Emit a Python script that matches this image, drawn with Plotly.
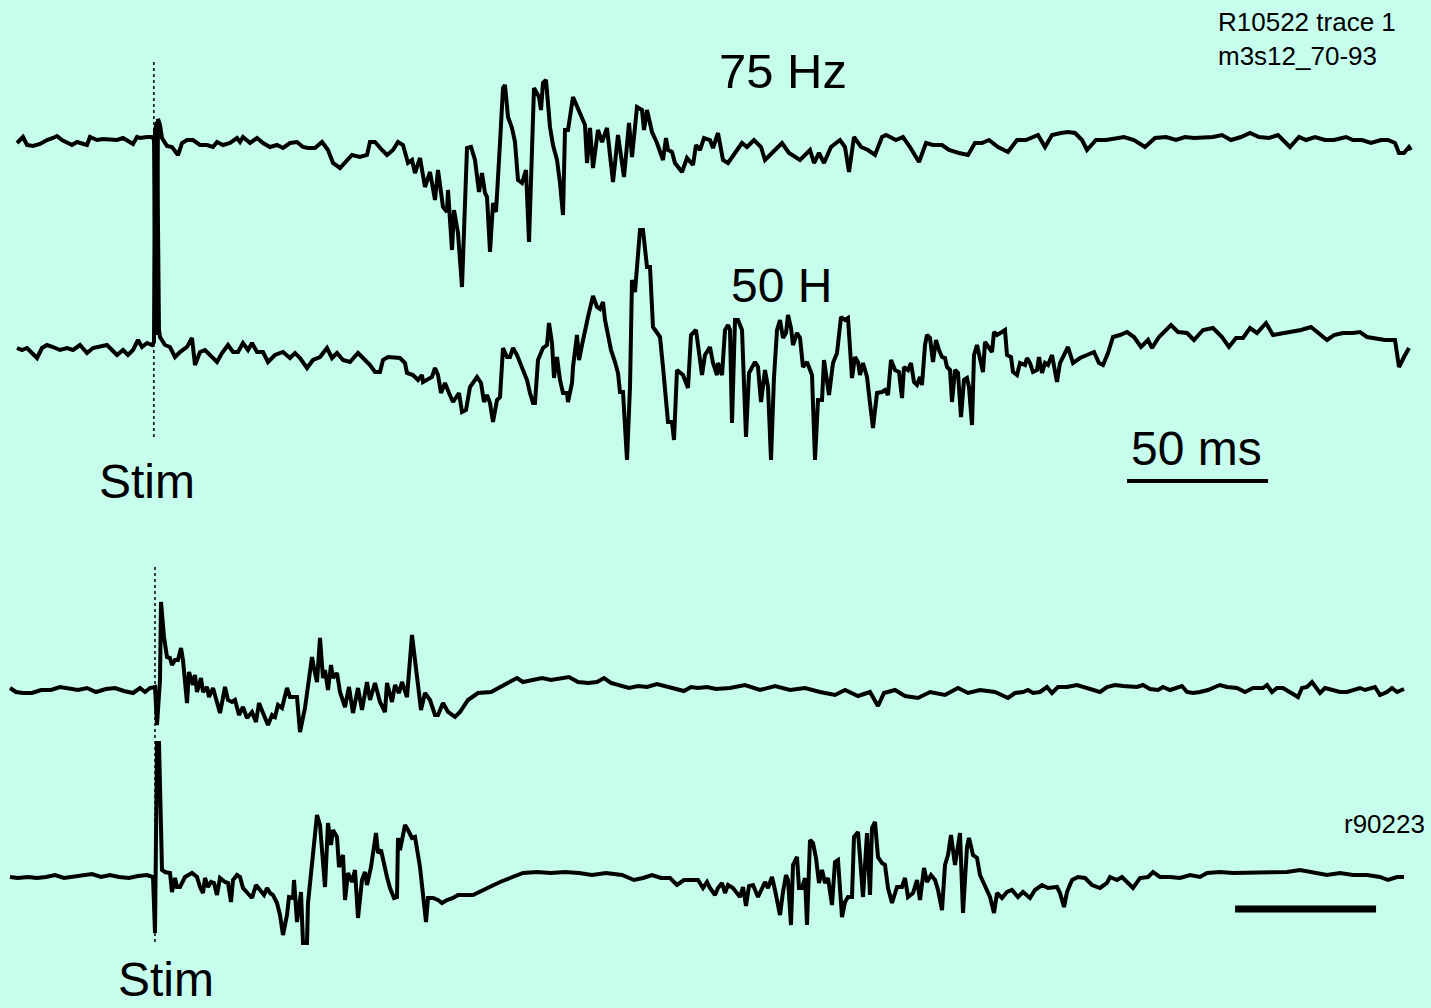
import plotly.graph_objects as go

# Sampling rate of the digitised sweeps (samples per ms); sample 0 = stimulus onset
FS_KHZ = 2.82

# ---- Sweep A, 75 Hz (sample index, amplitude a.u., positive = up) ----
a75_idx = [-138,-132,-128,-122,-115,-108,-102,-98,-93,-88,-83,-78,-73,-68,-65,-58,-52,-45,-38,-32,-25,-22,-18,-15,-8,-3,
           -1,0,1,3,5,7,
           12,17,23,27,32,38,45,52,58,62,68,75,82,85,88,95,102,108,115,122,128,135,142,148,153,160,167,173,178,185,192,197,
           205,212,215,220,227,232,238,243,248,253,257,260,265,270,275,280,283,288,292,293,297,299,303,307,312,316,320,324,
           327,330,332,335,338,341,345,348,350,353,357,360,363,367,371,374,379,384,386,388,391,395,398,402,405,408,410,413,
           418,422,427,430,432,435,438,443,447,452,458,463,469,474,477,482,487,489,492,497,502,508,511,513,517,520,527,532,
           538,541,545,549,555,558,563,568,573,580,587,592,599,606,610,617,627,634,645,655,659,664,669,676,685,690,694,699,
           706,713,720,727,731,741,748,755,764,771,778,787,794,804,813,820,827,834,843,853,862,871,883,890,897,906,913,920,
           927,932,941,951,960,969,979,990,1000,1011,1021,1030,1039,1049,1058,1067,1076,1086,1095,1104,1114,1123,1135,1144,
           1151,1160,1170,1179,1191,1198,1207,1216,1226,1233,1240,1244,1249,1254,1256]
a75_val = [-3,3,-5,-6,-4,0,2,4,0,-2,-5,-2,-3,-5,3,0,1,0,0,2,-2,-4,3,2,3,3,
           0,-190,-195,21,15,2,
           -6,-7,-15,-3,0,0,-5,-5,-7,-2,-5,-3,2,-2,3,-3,2,-3,-7,-5,-8,-3,-2,-7,-8,-8,-2,-10,-23,-28,-20,-15,
           -17,-15,-2,-2,-10,-15,-10,-2,-5,-23,-20,-33,-18,-47,-32,-60,-30,-67,-72,-50,-110,-70,-93,-147,-8,-7,-20,-52,
           -33,-53,-57,-112,-63,-72,-3,52,55,23,12,-2,-40,-43,-30,-102,52,43,30,57,60,13,-5,-20,-43,-75,10,10,
           43,33,20,15,-23,12,-28,10,-2,12,-42,5,-37,17,-17,33,30,10,30,8,-3,-20,2,-10,-12,-23,-32,-18,
           -25,-5,-10,2,0,-8,7,-20,-23,-13,-3,-7,0,-7,-20,-13,-3,-13,-20,-10,-23,-13,-23,-7,0,-7,-32,3,
           -7,-10,-15,3,5,0,3,-7,-22,-3,-5,-5,-10,-13,-15,-3,-3,0,-7,-12,0,0,5,-7,5,7,8,7,
           0,-10,0,0,2,3,0,-7,2,3,0,3,2,3,3,5,0,3,7,3,2,5,-7,3,
           0,3,0,0,3,0,0,-3,0,0,-3,-13,-13,-7,-10]

# ---- Sweep B, 50 Hz ----
a50_idx = [-138,-133,-128,-123,-118,-113,-108,-102,-95,-88,-82,-75,-68,-62,-55,-48,-43,-38,-32,-27,-22,-17,-13,-8,-3,
           -1,0,2,4,5,10,15,20,25,32,37,40,45,50,55,62,67,73,78,83,88,93,97,102,108,113,120,128,135,140,145,152,158,
           165,172,177,182,188,195,203,208,215,220,225,228,233,245,250,252,258,263,267,268,273,277,280,283,286,290,294,
           298,304,307,311,315,322,326,329,332,335,338,342,345,348,352,355,358,362,367,372,375,378,380,383,388,392,394,
           397,399,402,405,408,412,413,417,418,422,424,427,430,433,438,442,445,448,450,453,456,460,463,465,468,472,475,
           477,480,485,488,492,495,498,505,508,513,517,519,522,528,533,536,541,543,547,550,555,558,562,563,567,570,573,
           575,577,580,583,587,591,594,600,603,606,610,613,616,619,622,625,628,631,633,636,638,642,645,648,652,657,660,
           663,667,669,674,678,682,686,690,693,697,700,703,705,708,712,715,718,722,727,730,733,736,740,744,747,749,753,
           756,759,762,765,767,770,772,775,778,781,784,787,790,792,795,797,800,803,806,809,812,814,817,819,822,825,828,
           830,834,837,839,842,847,850,852,856,858,862,865,870,872,875,878,882,884,887,890,893,897,902,905,913,918,925,
           932,939,944,948,953,958,965,972,979,986,993,997,1004,1011,1016,1023,1032,1039,1048,1058,1067,1074,1081,1088,
           1095,1102,1111,1118,1128,1137,1146,1156,1165,1172,1179,1188,1198,1205,1212,1221,1230,1240,1244,1249,1254]
a50_val = [0,-2,0,-5,-10,0,3,1,-2,0,-2,3,-5,0,1,3,-2,-7,-2,-7,-2,8,1,5,3,
           6,218,226,18,11,3,1,-9,-4,1,10,-17,-4,-2,-7,-14,-5,3,-4,-4,5,-2,5,-4,-4,-14,-7,-4,-10,-5,-10,-20,-12,
           -9,0,-10,-5,-12,-14,-5,-10,-17,-24,-24,-12,-9,-10,-15,-25,-27,-32,-27,-34,-31,-29,-20,-27,-45,-35,-45,
           -54,-45,-64,-62,-39,-29,-35,-54,-47,-55,-74,-52,-49,0,-9,-9,0,-7,-19,-32,-45,-55,-55,-12,0,3,25,
           5,-30,-9,-32,-45,-45,-54,-35,-19,13,-12,3,15,31,52,41,39,46,28,15,-2,-14,-25,-44,-44,-112,-39,
           68,56,118,118,81,81,21,11,-19,-74,-74,-92,-22,-27,-40,13,18,1,-27,-7,1,-15,-27,-15,-27,18,23,
           18,-75,28,28,18,-89,-25,-14,-19,-54,-22,-39,-112,-29,18,28,10,15,33,20,3,15,10,-19,-14,-27,-112,
           -52,-52,-12,-47,-15,-5,31,28,30,-30,-9,-14,-27,-15,-29,-55,-80,-45,-44,-42,-47,-12,-22,-24,-50,-19,-22,
           -15,-34,-37,-29,-37,3,13,10,-14,8,-2,-9,-10,-19,-22,-54,-22,-25,-69,-32,-30,-39,-77,-7,3,-12,-24,
           6,0,-4,16,13,16,18,-7,-9,-24,-27,-15,-17,-10,-15,-24,-22,-9,-25,-15,-17,-7,-34,-15,1,-15,-10,
           -7,-4,-15,-17,-5,11,13,16,11,1,8,0,11,18,23,16,15,8,18,20,11,1,10,10,
           20,15,25,13,15,16,18,21,13,8,13,15,15,16,11,10,8,8,-19,-9,0]

# ---- Sweep C (r90223, upper) ----
c1_idx = [-145,-139,-132,-123,-114,-104,-95,-86,-77,-68,-59,-49,-40,-31,-22,-15,-10,-5,0,2,5,6,9,12,15,17,20,23,26,28,
          32,34,38,40,42,46,48,52,54,58,62,65,70,73,77,80,84,88,92,97,101,104,108,113,117,120,123,127,132,135,142,145,
          150,153,157,159,162,165,168,170,173,176,178,182,185,190,194,198,203,207,212,215,220,225,230,232,237,240,244,
          247,252,257,262,266,270,275,280,283,288,293,300,305,313,323,336,345,352,362,368,378,387,396,405,414,423,433,
          442,449,456,465,474,483,492,502,511,520,529,536,543,552,561,575,590,605,620,635,650,665,680,690,703,715,723,
          729,740,750,763,775,790,803,813,825,840,853,860,868,873,878,885,892,897,903,912,922,932,940,945,952,960,968,
          975,982,988,995,1003,1008,1015,1020,1027,1032,1038,1045,1053,1060,1065,1072,1082,1090,1098,1108,1112,1117,
          1122,1128,1135,1143,1147,1152,1157,1161,1165,1170,1178,1185,1192,1198,1205,1210,1215,1220,1225,1232,1237,
          1242,1249]
c1_val = [2,-2,-3,-3,0,0,3,1,0,2,-2,1,2,-1,-3,2,-2,2,3,-35,10,88,53,33,32,25,30,30,42,30,
          -13,18,5,15,-2,12,-2,3,-7,2,-13,-23,3,-10,-12,-10,-25,-17,-28,-22,-32,-13,-23,-35,-25,-27,-15,-18,2,-7,-7,-42,
          -18,3,33,22,8,52,12,20,0,25,12,17,-2,-17,3,-23,2,-20,8,-10,7,-12,-22,7,-12,5,-3,
          8,-7,55,15,-20,-3,-10,-25,-25,-13,-22,-27,-22,-10,-3,-2,3,7,12,8,10,12,10,12,13,8,7,
          8,12,7,5,2,4,3,6,4,2,-1,3,2,3,1,2,5,0,4,0,2,-2,-5,0,-6,-2,-16,
          -3,0,-6,-8,-2,-5,2,-3,0,-2,-8,-3,-2,0,-3,-2,3,-3,3,3,5,2,0,-2,3,5,4,
          3,3,5,1,0,3,0,2,4,-2,-3,-2,0,3,5,3,2,-2,2,2,5,-2,
          2,2,-2,-7,2,3,8,2,-3,2,0,-2,-2,0,2,0,2,3,-5,-2,2,
          -2,1]

# ---- Sweep C (r90223, lower) ----
c2_idx = [-145,-137,-127,-118,-109,-100,-91,-82,-72,-63,-54,-45,-36,-26,-17,-8,-2,0,2,4,7,10,15,17,20,22,25,30,37,42,
          45,48,50,53,56,59,62,65,70,73,76,78,82,85,88,93,97,101,105,109,112,115,118,122,125,128,132,134,138,139,142,
          146,148,152,153,157,159,162,165,168,170,173,176,178,182,184,188,190,193,197,200,203,207,210,212,216,218,221,
          223,226,232,235,239,242,243,245,247,250,253,257,260,265,271,273,278,283,287,292,298,303,318,332,345,355,368,
          382,396,410,424,437,451,467,479,488,497,506,515,522,529,536,543,548,552,555,560,563,567,570,573,578,585,588,
          591,594,598,603,607,610,613,617,620,625,628,631,633,636,638,642,644,647,650,652,655,658,661,664,667,670,673,
          677,680,683,687,690,693,697,699,703,705,708,712,715,717,720,723,727,730,733,737,742,747,750,753,758,762,765,
          769,772,776,780,783,787,790,793,796,800,805,808,812,814,818,822,825,830,835,839,842,847,852,857,863,868,875,
          880,887,893,902,905,909,912,917,923,930,937,945,952,955,962,967,973,978,985,993,998,1005,1015,1025,1035,1045,
          1052,1065,1078,1092,1105,1118,1132,1145,1158,1172,1185,1198,1212,1225,1233,1242,1249]
c2_val = [1,0,1,0,1,3,0,1,2,4,1,3,1,0,2,3,1,-55,135,135,8,6,5,-14,0,-9,-9,1,5,1,
          -9,-15,0,-9,-4,-5,-17,0,-4,-5,-24,-2,3,1,-10,-15,-20,-7,-12,-17,-10,-15,-17,-25,-37,-57,-37,-19,-20,-2,-44,
          -14,-65,-65,-25,16,38,63,53,21,-9,55,33,48,41,11,23,-22,5,-4,8,-40,-2,6,-7,11,26,45,
          25,28,1,-10,-20,-19,40,28,38,53,48,40,41,11,-44,-20,-20,-22,-25,-22,-20,-17,-17,-10,-4,0,5,
          6,5,6,5,3,5,3,-2,0,3,0,0,-7,-2,-2,-2,-10,-4,-10,-17,-10,-5,-15,-7,-10,-19,-9,
          -28,-8,-7,-19,-9,-4,-10,1,-12,-37,-14,3,-2,-47,13,21,-10,-10,0,-47,38,35,20,-5,8,-5,0,
          -27,16,18,-39,-24,-19,-19,41,46,21,-19,45,-17,50,56,21,15,13,-10,-25,-9,-9,0,-19,-15,-2,-22,
          10,-4,3,-2,-12,-32,13,23,43,13,45,-35,31,40,23,20,3,-9,-19,-35,-15,-20,-14,-12,-19,-14,-20,
          -12,-7,-10,-9,-15,-29,-14,-2,1,0,-7,-10,-5,1,-2,1,-5,-10,0,1,6,1,1,0,3,1,
          5,6,5,5,6,6,6,8,6,3,5,3,3,1,-2,1,1]

SWEEPS = [
    (a75_idx, a75_val, -140),
    (a50_idx, a50_val, -348),
    (c1_idx, c1_val, -690),
    (c2_idx, c2_val, -878),
]

BG = "#c6fdec"
FONT = "Liberation Sans, Arial, sans-serif"

fig = go.Figure()

for idx, val, base in SWEEPS:
    fig.add_trace(go.Scatter(
        x=[i / FS_KHZ for i in idx],
        y=[base + v for v in val],
        mode="lines",
        line=dict(color="black", width=4),
        hoverinfo="skip",
        showlegend=False,
    ))

shapes = [
    # stimulus markers
    dict(type="line", xref="x", yref="y", x0=-0.4, x1=-0.4, y0=-62, y1=-438,
         line=dict(color="black", width=1.5, dash="dot")),
    dict(type="line", xref="x", yref="y", x0=0, x1=0, y0=-567, y1=-943,
         line=dict(color="black", width=1.5, dash="dot")),
    # 50 ms scale bars
    dict(type="line", xref="x", yref="y", x0=344.7, x1=394.7, y0=-481, y1=-481,
         line=dict(color="black", width=4)),
    dict(type="line", xref="x", yref="y", x0=383, x1=433, y0=-909, y1=-909,
         line=dict(color="black", width=7)),
]

W, H = 1431, 1008


def px(x, y):
    return x / W, 1 - y / H


annots = [
    ("75 Hz", 783, 71, 49, "center", "middle"),
    ("50 H", 781, 285, 48, "center", "middle"),
    ("50 ms", 1196, 448, 48, "center", "middle"),
    ("Stim", 147, 481, 48, "center", "middle"),
    ("Stim", 166, 1008, 48, "center", "bottom"),
    ("R10522 trace 1", 1216, 22, 26, "left", "middle"),
    ("m3s12_70-93", 1216, 56, 26, "left", "middle"),
    ("r90223", 1342, 824, 26, "left", "middle"),
]
annotations = []
for text, x, y, size, xa, ya in annots:
    ax, ay = px(x, y)
    annotations.append(dict(
        text=text, x=ax, y=ay, xref="paper", yref="paper",
        xanchor=xa, yanchor=ya, showarrow=False,
        font=dict(family=FONT, size=size, color="black"),
    ))

fig.update_layout(
    width=W, height=H,
    margin=dict(l=0, r=0, t=0, b=0),
    paper_bgcolor=BG, plot_bgcolor=BG,
    xaxis=dict(range=[-155 / FS_KHZ, (W - 155) / FS_KHZ], visible=False, fixedrange=True),
    yaxis=dict(range=[-H, 0], visible=False, fixedrange=True),
    shapes=shapes,
    annotations=annotations,
)

fig.write_html("out.html", config={"displayModeBar": False})
